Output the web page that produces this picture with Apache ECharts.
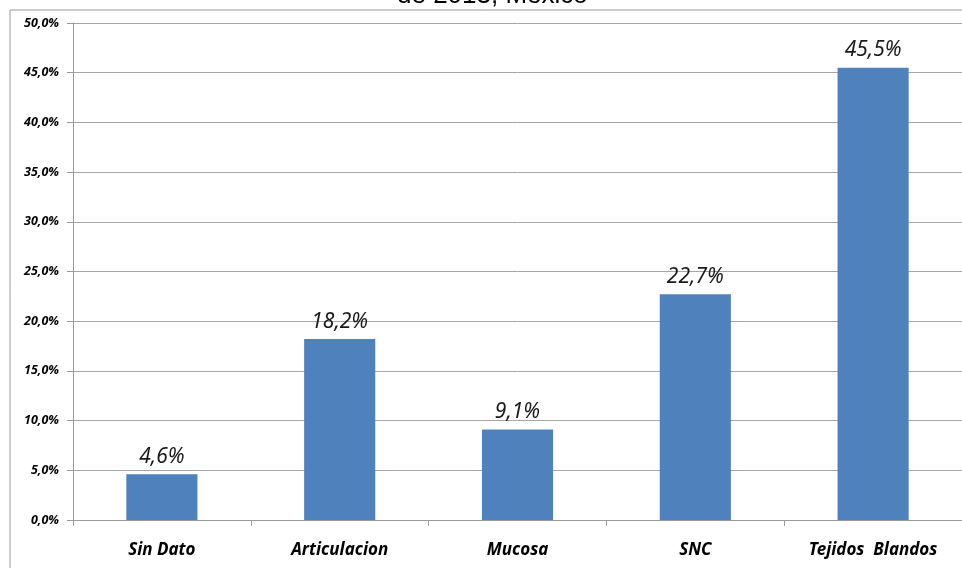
<!DOCTYPE html>
<html>
<head>
<meta charset="utf-8">
<script src="https://cdn.jsdelivr.net/npm/echarts@6/dist/echarts.min.js"></script>
<style>
html,body{margin:0;padding:0;background:#fff;}
#chart{width:962px;height:568px;}
</style>
</head>
<body>
<div id="chart"></div>
<script>
// Categories and shares (percent)
const categories = ['Sin Dato', 'Articulacion', 'Mucosa', 'SNC', 'Tejidos  Blandos'];
const shares = [4.6, 18.2, 9.1, 22.7, 45.5];
const titleText = 'de 2013, México';

const fmt = v => v.toFixed(1).replace('.', ',') + '%';

const chart = echarts.init(document.getElementById('chart'));
chart.setOption({
  animation: false,
  backgroundColor: '#ffffff',
  title: {
    text: titleText,
    left: 392,
    top: -22,
    textStyle: { fontFamily: 'Liberation Sans', fontSize: 26, fontWeight: 'normal', color: '#000' }
  },
  graphic: [{
    type: 'rect',
    shape: { x: 10, y: 10, width: 970, height: 580 },
    style: { fill: 'none', stroke: '#9a9a9a', lineWidth: 1 },
    silent: true, z: -1
  }],
  grid: { left: 73, right: -1, top: 23, bottom: 48, containLabel: false },
  xAxis: {
    type: 'category',
    data: categories,
    axisLine: { lineStyle: { color: '#9a9a9a' } },
    axisTick: { show: true, length: 6, lineStyle: { color: '#9a9a9a' } },
    axisLabel: {
      margin: 22,
      fontFamily: 'Noto Sans', fontStyle: 'italic', fontWeight: 'bold', fontSize: 17, color: '#000'
    }
  },
  yAxis: {
    type: 'value',
    min: 0, max: 50, interval: 5,
    axisLine: { show: true, lineStyle: { color: '#9a9a9a' } },
    axisTick: { show: true, length: 6, lineStyle: { color: '#9a9a9a' } },
    splitLine: { lineStyle: { color: '#a6a6a6' } },
    axisLabel: {
      margin: 14,
      formatter: v => fmt(v),
      fontFamily: 'Noto Sans', fontStyle: 'italic', fontWeight: 'bold', fontSize: 12.5, color: '#000'
    }
  },
  series: [{
    type: 'bar',
    data: shares,
    barWidth: '40%',
    itemStyle: { color: '#4f81bd' },
    label: {
      show: true, position: 'top', distance: 7,
      formatter: p => fmt(p.value),
      fontFamily: 'Noto Sans', fontStyle: 'italic', fontSize: 21, color: '#1a1a1a'
    }
  }]
});
</script>
</body>
</html>
